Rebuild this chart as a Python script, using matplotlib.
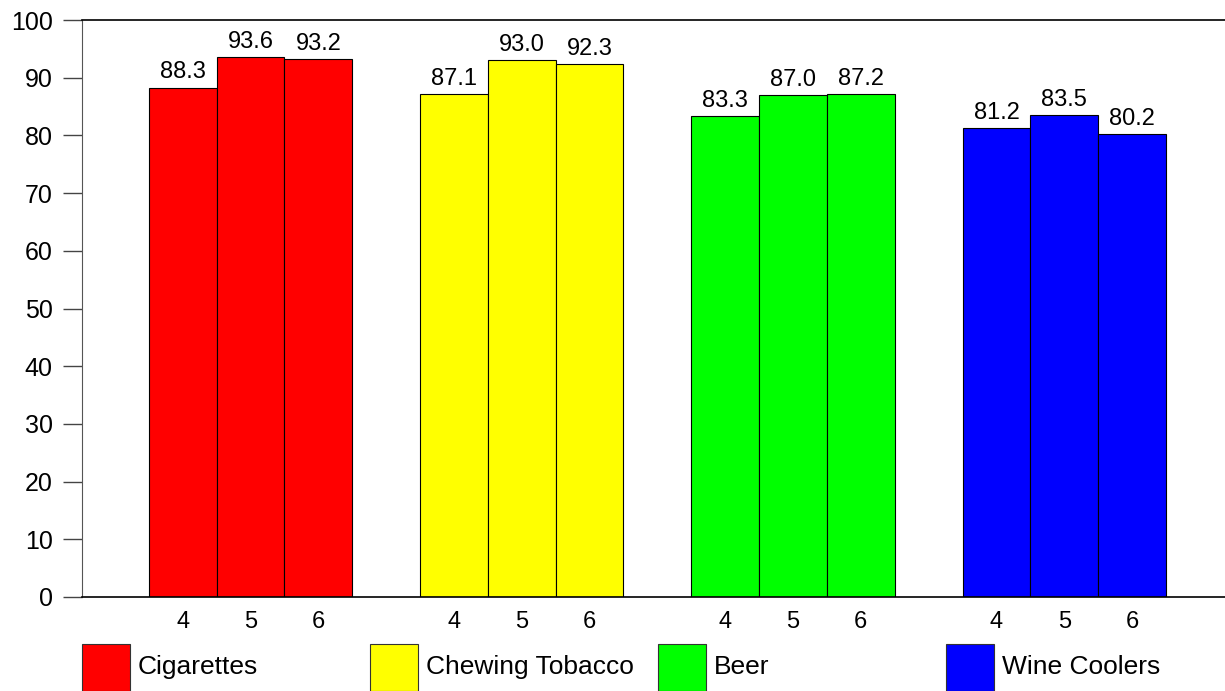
import matplotlib
matplotlib.use("Agg")
import matplotlib.pyplot as plt
from matplotlib.patches import Rectangle
import numpy as np

plt.rcParams['font.family'] = ['Liberation Sans', 'DejaVu Sans']

categories = ["Cigarettes", "Chewing Tobacco", "Beer", "Wine Coolers"]
grades = ["4", "5", "6"]
values = {
    "Cigarettes": [88.3, 93.6, 93.2],
    "Chewing Tobacco": [87.1, 93.0, 92.3],
    "Beer": [83.3, 87.0, 87.2],
    "Wine Coolers": [81.2, 83.5, 80.2],
}
colors = ["#FF0000", "#FFFF00", "#00FF00", "#0000FF"]
yticks = list(range(0, 101, 10))

fig = plt.figure(figsize=(12.25, 6.91), dpi=100)
ax = fig.add_axes([82/1225, 94/691, 1 - 82/1225, (597-20)/691])

xt, xl = [], []
for gi, cat in enumerate(categories):
    pos = np.arange(len(grades)) + 4*gi
    bars = ax.bar(pos, values[cat], width=1.0, color=colors[gi],
                  edgecolor="black", linewidth=0.8)
    ax.bar_label(bars, labels=[f"{v:.1f}" for v in values[cat]],
                 padding=3, fontsize=17)
    xt.extend(pos)
    xl.extend(grades)

ax.set_xlim(-1.485, 15.37)
ax.set_ylim(0, 100)
ax.set_yticks(yticks)
ax.set_yticklabels([str(t) for t in yticks], fontsize=18)
ax.set_xticks(xt)
ax.set_xticklabels(xl, fontsize=17)
ax.tick_params(axis='x', length=0, pad=10)
ax.tick_params(axis='y', length=14, width=1, color="#444444", pad=7)
ax.spines['right'].set_visible(False)
ax.spines['left'].set_color("#555555")
ax.spines['top'].set_color("black")
ax.spines['bottom'].set_color("black")
ax.spines['top'].set_linewidth(1.2)
ax.spines['bottom'].set_linewidth(1.2)

# legend
leg_x = [82, 370, 658, 946]
for gi, cat in enumerate(categories):
    x0 = leg_x[gi] / 1225
    fig.patches.append(Rectangle((x0, 0), 48/1225, 47/691,
                                 transform=fig.transFigure,
                                 facecolor=colors[gi], edgecolor="#333333",
                                 linewidth=0.8))
    fig.text(x0 + 56/1225, 17/691, cat, fontsize=19, va='baseline', ha='left')

fig.savefig("out.png", dpi=100)
